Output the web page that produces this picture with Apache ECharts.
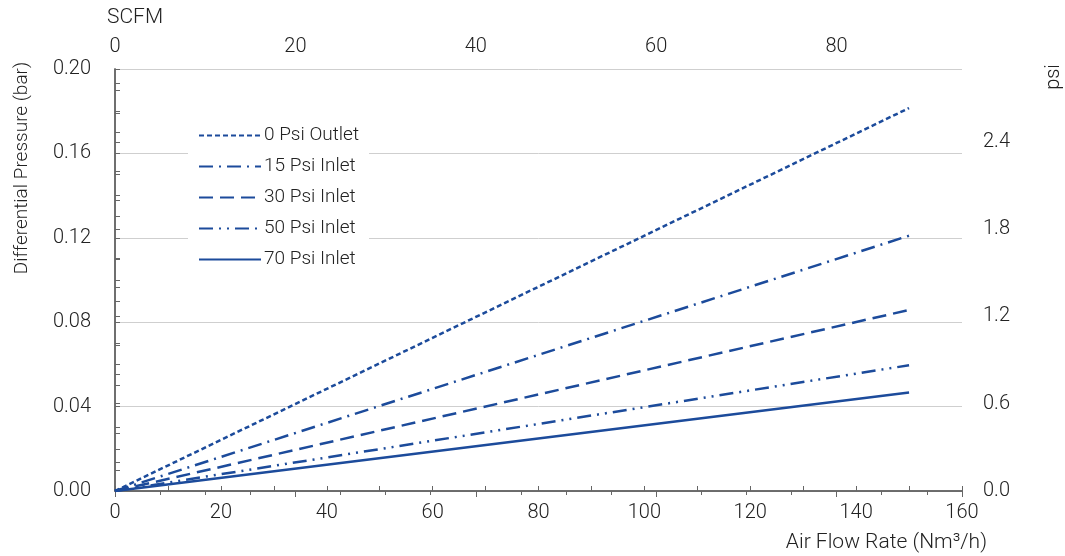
<!DOCTYPE html>
<html>
<head>
<meta charset="utf-8">
<script src="https://cdn.jsdelivr.net/npm/echarts@6/dist/echarts.min.js"></script>
<style>
html,body{margin:0;padding:0;background:#fff;}
#chart{width:1065px;height:556px;}
</style>
</head>
<body>
<div id="chart"></div>
<script>
// ---- data ----
const flowNm3h = [0, 150];
const seriesNames = ['0 Psi Outlet', '15 Psi Inlet', '30 Psi Inlet', '50 Psi Inlet', '70 Psi Inlet'];
const psi0Outlet = [0, 0.1815];
const psi15Inlet = [0, 0.1210];
const psi30Inlet = [0, 0.0858];
const psi50Inlet = [0, 0.0596];
const psi70Inlet = [0, 0.0467];
const xTicksNm3h = [0, 20, 40, 60, 80, 100, 120, 140, 160];
const scfmMax = 93.9;            // 160 Nm3/h in SCFM
const psiMax = 0.2 * 14.5038;    // 0.2 bar in psi

const color = '#1c4b9b';
const textColor = '#222';
const axisColor = '#666';
const font = 'Roboto';

const dashes = [
  [5, 3],
  [14, 6, 2, 6],
  [14, 7],
  [14, 6, 2, 6, 2, 6],
  'solid'
];
const values = [psi0Outlet, psi15Inlet, psi30Inlet, psi50Inlet, psi70Inlet];

const series = seriesNames.map((n, i) => ({
  name: n,
  type: 'line',
  xAxisIndex: 0,
  yAxisIndex: 0,
  symbol: 'none',
  data: flowNm3h.map((x, j) => [x, values[i][j]]),
  lineStyle: { color: color, width: 2.5, type: dashes[i], cap: 'butt' },
  itemStyle: { color: color },
  z: 3
}));

const chart = echarts.init(document.getElementById('chart'), null, { renderer: 'canvas' });
chart.setOption({
  animation: false,
  backgroundColor: '#fff',
  textStyle: { fontFamily: font },
  grid: { left: 115, right: 103, top: 69, bottom: 65, containLabel: false },
  legend: {
    orient: 'vertical',
    left: 188,
    top: 120,
    data: seriesNames,
    itemWidth: 62,
    itemHeight: 14,
    itemGap: 12,
    backgroundColor: '#fff',
    padding: [6, 10, 6, 10],
    itemStyle: { opacity: 0, borderWidth: 0 },
    textStyle: { color: textColor, fontSize: 19, fontFamily: font, fontWeight: 300, padding: [0, 0, 0, -2] },
    z: 5
  },
  xAxis: [
    {
      type: 'value', position: 'bottom', min: 0, max: 160, interval: 20,
      axisLine: { show: true, lineStyle: { color: axisColor, width: 1.5 } },
      axisTick: { show: true, inside: true, length: 5, lineStyle: { color: axisColor } },
      minorTick: { show: true, splitNumber: 2, length: 5, lineStyle: { color: axisColor } },
      splitLine: { show: false },
      axisLabel: { color: textColor, fontSize: 20, fontFamily: font, fontWeight: 300, margin: 12,
        formatter: v => xTicksNm3h.includes(v) ? String(v) : '' }
    },
    {
      type: 'value', position: 'top', min: 0, max: scfmMax, interval: 20,
      axisLine: { show: true, lineStyle: { color: axisColor, width: 1.5 } },
      axisTick: { show: true, inside: true, length: 6, lineStyle: { color: axisColor } },
      minorTick: { show: true, splitNumber: 4, length: 4, lineStyle: { color: axisColor } },
      splitLine: { show: false },
      axisLabel: { color: textColor, fontSize: 20, fontFamily: font, fontWeight: 300, margin: 12, showMaxLabel: false }
    }
  ],
  yAxis: [
    {
      type: 'value', position: 'left', min: 0, max: 0.2, interval: 0.04,
      axisLine: { show: true, lineStyle: { color: axisColor, width: 1.5 } },
      axisTick: { show: true, inside: true, length: 5, lineStyle: { color: axisColor } },
      minorTick: { show: true, splitNumber: 4, length: 5, lineStyle: { color: axisColor } },
      splitLine: { show: true, lineStyle: { color: '#cfcfcf', width: 1 } },
      axisLabel: { color: textColor, fontSize: 20, fontFamily: font, fontWeight: 300, margin: 24,
        formatter: v => v.toFixed(2) }
    },
    {
      type: 'value', position: 'right', min: 0, max: psiMax, interval: 0.6,
      axisLine: { show: true, lineStyle: { color: axisColor, width: 1.5 } },
      axisTick: { show: true, inside: false, length: 5, lineStyle: { color: axisColor } },
      minorTick: { show: true, splitNumber: 3, length: 5, lineStyle: { color: axisColor } },
      splitLine: { show: false },
      axisLabel: { color: textColor, fontSize: 20, fontFamily: font, fontWeight: 300, margin: 21,
        showMaxLabel: false, formatter: v => v.toFixed(1) }
    }
  ],
  graphic: [
    { type: 'text', left: 107, top: 7,
      style: { text: 'SCFM', fill: textColor, font: '300 21px Roboto' } },
    { type: 'text', x: 22, y: 168, rotation: Math.PI / 2,
      style: { text: 'Differential Pressure (bar)', fill: textColor, font: '300 19px Roboto',
        align: 'center', verticalAlign: 'middle' } },
    { type: 'text', x: 1054, y: 77, rotation: Math.PI / 2,
      style: { text: 'psi', fill: textColor, font: '300 20px Roboto',
        align: 'center', verticalAlign: 'middle' } },
    { type: 'text', right: 78, top: 532,
      style: { text: 'Air Flow Rate (Nm³/h)', fill: textColor, font: '300 21px Roboto' } }
  ],
  series: series
});
</script>
</body>
</html>
